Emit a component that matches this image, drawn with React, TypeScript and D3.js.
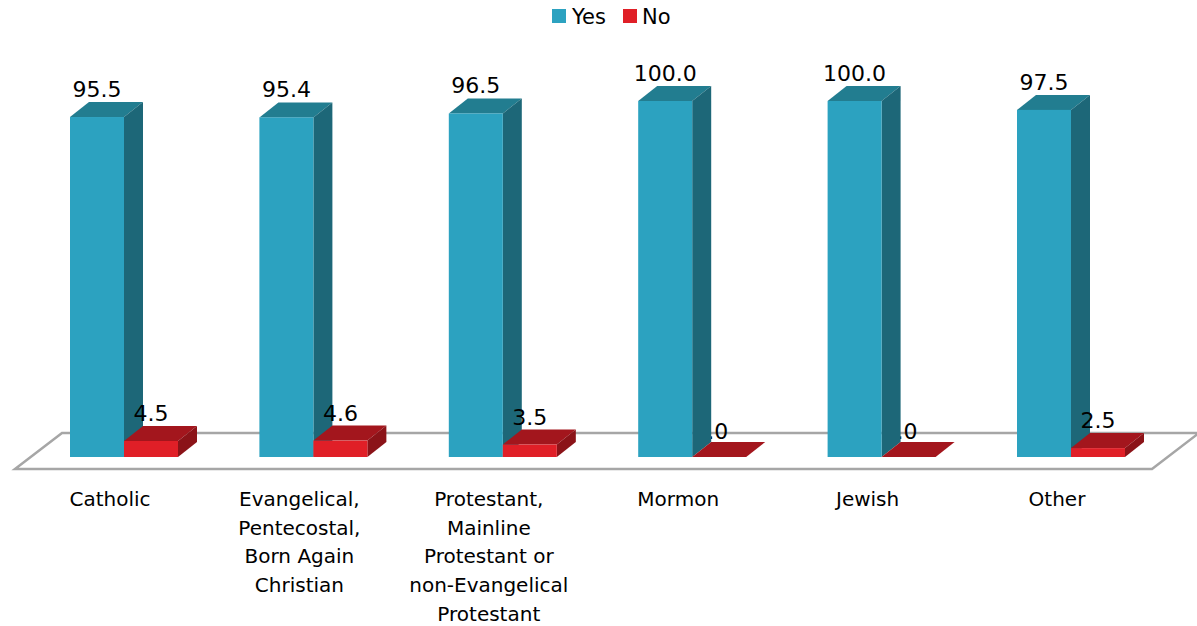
import React from "react";
import * as d3 from "d3";

const categories = ["Catholic", "Evangelical", "Protestant", "Mormon", "Jewish", "Other"];
const categoryLabels: string[][] = [
  ["Catholic"],
  ["Evangelical,", "Pentecostal,", "Born Again", "Christian"],
  ["Protestant,", "Mainline", "Protestant or", "non-Evangelical", "Protestant"],
  ["Mormon"],
  ["Jewish"],
  ["Other"],
];
const yesValues = [95.5, 95.4, 96.5, 100.0, 100.0, 97.5];
const noValues = [4.5, 4.6, 3.5, 0.0, 0.0, 2.5];
const seriesNames = ["Yes", "No"];

const W = 1197;
const H = 626;
const FONT = "'DejaVu Sans', sans-serif";
const FS_CAT = 20;
const FS_VAL = 22;
const FS_LEG = 21;

const colors = {
  yes: { front: "#2CA2C0", top: "#227D90", side: "#1D6778" },
  no: { front: "#E01F27", top: "#A3161D", side: "#8B1318" },
};

const DX = 19;
const DY = -15;
const BAR_W = 54;

export default function App() {
  const x = d3.scaleBand<string>().domain(categories).range([29.3, 1165.7]).paddingInner(0).paddingOuter(0);
  const y = d3.scaleLinear().domain([0, 100]).range([457, 101]);
  const groupW = BAR_W * 2;
  const groupLeft = (c: string) => (x(c) as number) + (x.bandwidth() - groupW) / 2;

  const bar = (x0: number, v: number, col: { front: string; top: string; side: string }, key: string) => {
    const yb = y(0);
    const yt = y(v);
    const x1 = x0 + BAR_W;
    const pts = (a: number[][]) => a.map((p) => p.join(",")).join(" ");
    if (v <= 0) {
      return (
        <polygon key={key} points={pts([[x0, yb], [x1, yb], [x1 + DX, yb + DY], [x0 + DX, yb + DY]])} fill={col.top} />
      );
    }
    return (
      <g key={key}>
        <polygon points={pts([[x0, yt], [x1, yt], [x1 + DX, yt + DY], [x0 + DX, yt + DY]])} fill={col.top} />
        <polygon points={pts([[x1, yt], [x1 + DX, yt + DY], [x1 + DX, yb + DY], [x1, yb]])} fill={col.side} />
        <rect x={x0} y={yt} width={BAR_W} height={yb - yt} fill={col.front} />
      </g>
    );
  };

  const label = (x0: number, v: number, key: string) => {
    const zero = v <= 0;
    return (
      <text
        key={key}
        x={zero ? x0 + 36 : x0 + BAR_W / 2}
        y={y(v) + DY - (zero ? 3 : 5)}
        textAnchor={zero ? "end" : "middle"}
        fontFamily={FONT}
        fontSize={FS_VAL}
        fill="#000"
      >
        {v.toFixed(1)}
      </text>
    );
  };

  // floor
  const fl = 15, fr = 1152, fy = 469, fdx = 47, fdy = -36;
  const floorPts = [[fl, fy], [fr, fy], [fr + fdx, fy + fdy], [fl + fdx, fy + fdy]].map((p) => p.join(",")).join(" ");

  return (
    <svg width={W} height={H} style={{ position: "absolute", left: 0, top: 0, background: "#fff" }}>
      <polygon points={floorPts} fill="#fff" stroke="#A6A6A6" strokeWidth={2.5} />
      {categories.map((c, i) => {
        const gx = groupLeft(c);
        return (
          <g key={c}>
            {noValues[i] <= 0 && label(gx + BAR_W, noValues[i], "zl")}
            {bar(gx, yesValues[i], colors.yes, "y")}
            {bar(gx + BAR_W, noValues[i], colors.no, "n")}
          </g>
        );
      })}
      {categories.map((c, i) => {
        const gx = groupLeft(c);
        return (
          <g key={"l" + c}>
            {label(gx, yesValues[i], "yl")}
            {noValues[i] > 0 && label(gx + BAR_W, noValues[i], "nl")}
          </g>
        );
      })}
      {categories.map((c, i) => {
        const cx = (x(c) as number) + x.bandwidth() / 2 - 14;
        return (
          <text key={"c" + c} textAnchor="middle" fontFamily={FONT} fontSize={FS_CAT} fill="#000">
            {categoryLabels[i].map((ln, j) => (
              <tspan key={j} x={cx} y={506 + j * 28.7}>
                {ln}
              </tspan>
            ))}
          </text>
        );
      })}
      <g>
        <rect x={552} y={9} width={14} height={14} fill={colors.yes.front} />
        <text x={572} y={24} fontFamily={FONT} fontSize={FS_LEG} fill="#000">{seriesNames[0]}</text>
        <rect x={623} y={9} width={14} height={14} fill={colors.no.front} />
        <text x={642} y={24} fontFamily={FONT} fontSize={FS_LEG} fill="#000">{seriesNames[1]}</text>
      </g>
    </svg>
  );
}
